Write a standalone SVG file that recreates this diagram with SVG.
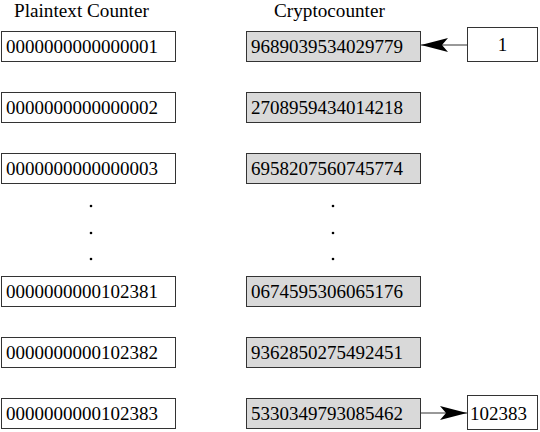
<svg xmlns="http://www.w3.org/2000/svg" width="540" height="432" viewBox="0 0 540 432">
<style>
text{font-family:"Liberation Serif","Times New Roman",serif;font-size:19px;fill:#000}
.h{font-size:19.2px}
.p{fill:#fff;stroke:#333;stroke-width:1}
.c{fill:#d9d9d9;stroke:#333;stroke-width:1}
.w{fill:#fff;stroke:#333;stroke-width:1}
.dot{fill:#000}
</style>
<defs>
<marker id="ah" markerUnits="userSpaceOnUse" markerWidth="30" markerHeight="16" refX="27" refY="7.5" orient="auto" viewBox="0 0 30 16">
<path d="M27,7.5 L0,0.5 L6,7.5 L0,14.5 Z" fill="#000"/>
</marker>
</defs>
<g id="headers">
<text class="h" x="14" y="17">Plaintext Counter</text>
<text class="h" x="274" y="17">Cryptocounter</text>
</g>
<g id="p1"><rect class="p" x="1.5" y="31.5" width="174" height="30"/><text x="6" y="53">0000000000000001</text></g>
<g id="p2"><rect class="p" x="1.5" y="92.5" width="174" height="30"/><text x="6" y="114">0000000000000002</text></g>
<g id="p3"><rect class="p" x="1.5" y="153.5" width="174" height="30"/><text x="6" y="175">0000000000000003</text></g>
<g id="p4"><rect class="p" x="1.5" y="276.5" width="174" height="30"/><text x="6" y="298">0000000000102381</text></g>
<g id="p5"><rect class="p" x="1.5" y="337.5" width="174" height="30"/><text x="6" y="359">0000000000102382</text></g>
<g id="p6"><rect class="p" x="1.5" y="398.5" width="174" height="30"/><text x="6" y="420">0000000000102383</text></g>
<g id="c1"><rect class="c" x="246.5" y="31.5" width="174" height="30"/><text x="251" y="53">9689039534029779</text></g>
<g id="c2"><rect class="c" x="246.5" y="92.5" width="174" height="30"/><text x="251" y="114">2708959434014218</text></g>
<g id="c3"><rect class="c" x="246.5" y="153.5" width="174" height="30"/><text x="251" y="175">6958207560745774</text></g>
<g id="c4"><rect class="c" x="246.5" y="276.5" width="174" height="30"/><text x="251" y="298">0674595306065176</text></g>
<g id="c5"><rect class="c" x="246.5" y="337.5" width="174" height="30"/><text x="251" y="359">9362850275492451</text></g>
<g id="c6"><rect class="c" x="246.5" y="398.5" width="174" height="30"/><text x="251" y="420">5330349793085462</text></g>
<g id="start"><rect class="w" x="467.5" y="27.5" width="70" height="34"/><text x="502.5" y="51" text-anchor="middle">1</text></g>
<g id="end"><rect class="w" x="467.5" y="395.5" width="70" height="34"/><text x="470" y="420">102383</text></g>
<g id="ellipsis">
<circle class="dot" cx="91" cy="206" r="1.3"/><circle class="dot" cx="91" cy="233" r="1.3"/><circle class="dot" cx="91" cy="259" r="1.3"/>
<circle class="dot" cx="333" cy="206" r="1.3"/><circle class="dot" cx="333" cy="233" r="1.3"/><circle class="dot" cx="333" cy="259" r="1.3"/>
</g>
<g id="connectors" stroke="#333" stroke-width="1" fill="none">
<line x1="467" y1="45" x2="421" y2="45" marker-end="url(#ah)"/>
<line x1="421" y1="413" x2="467" y2="413" marker-end="url(#ah)"/>
</g>
</svg>
